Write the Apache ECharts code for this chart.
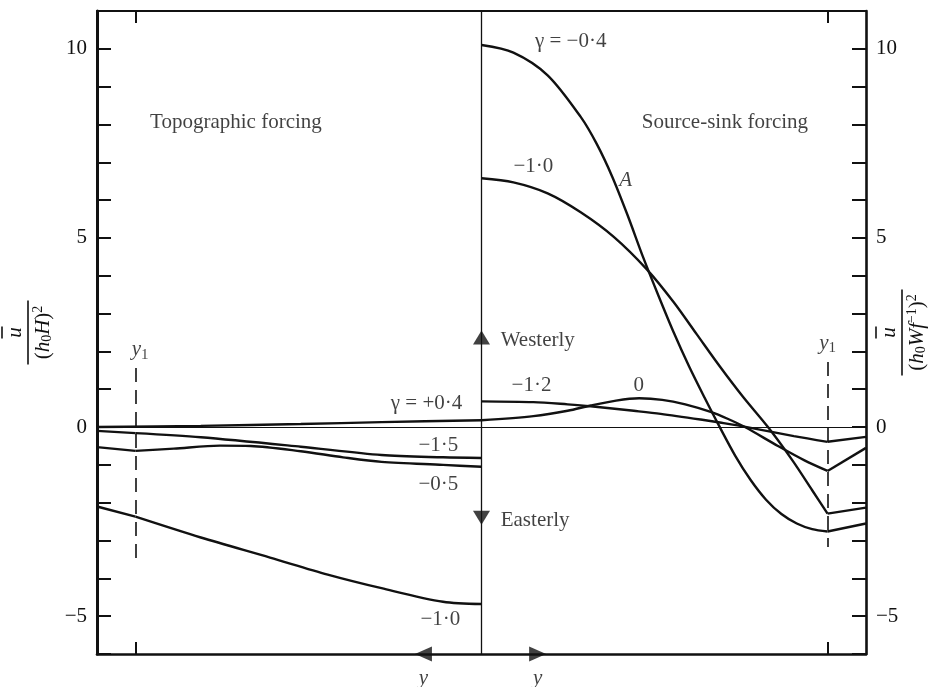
<!DOCTYPE html>
<html><head><meta charset="utf-8">
<script src="https://cdn.jsdelivr.net/npm/echarts@6/dist/echarts.min.js"></script>
<style>html,body{margin:0;padding:0;background:#fff}#c{width:932px;height:687px}</style>
</head><body><div id="c"></div>
<script>
// Position along y measured from the centre line (fraction of half-width), mean wind value
const y1 = 0.9;
const yTickLabels = [-5, 0, 5, 10];

// Topographic forcing (left panel)
const topoGammaP04 = [[0,0.18],[0.26,0.13],[0.47,0.08],[0.73,0.03],[1,0.0]];
const topoGammaM15 = [[0,-0.82],[0.1,-0.8],[0.26,-0.74],[0.47,-0.52],[0.73,-0.27],[0.9,-0.16],[1,-0.1]];
const topoGammaM05 = [[0,-1.05],[0.1,-1.0],[0.26,-0.92],[0.36,-0.8],[0.47,-0.64],[0.6,-0.5],[0.68,-0.49],[0.8,-0.57],[0.9,-0.63],[1,-0.53]];
const topoGammaM10 = [[0,-4.68],[0.1,-4.62],[0.26,-4.26],[0.4,-3.9],[0.55,-3.45],[0.73,-2.92],[0.9,-2.37],[1,-2.1]];

// Source-sink forcing (right panel)
const srcGammaM04 = [[0,10.1],[0.083,9.9],[0.172,9.3],[0.258,8.2],[0.3,7.48],[0.34,6.62],[0.38,5.6],[0.42,4.5],[0.46,3.48],[0.5,2.5],[0.54,1.6],[0.58,0.78],[0.617,0.05],[0.66,-0.76],[0.7,-1.4],[0.74,-1.92],[0.78,-2.3],[0.82,-2.55],[0.86,-2.7],[0.9,-2.76],[1,-2.55]];
const srcGammaM10 = [[0,6.58],[0.083,6.47],[0.172,6.18],[0.258,5.68],[0.344,5.03],[0.43,4.17],[0.5,3.3],[0.56,2.45],[0.62,1.6],[0.68,0.8],[0.745,0.0],[0.81,-0.9],[0.86,-1.67],[0.9,-2.29],[1,-2.13]];
const srcGamma0 = [[0,0.18],[0.135,0.29],[0.224,0.43],[0.284,0.57],[0.35,0.7],[0.41,0.76],[0.47,0.72],[0.53,0.6],[0.596,0.4],[0.64,0.22],[0.685,0.0],[0.771,-0.5],[0.84,-0.88],[0.9,-1.16],[1,-0.55]];
const srcGammaM12 = [[0,0.68],[0.135,0.66],[0.224,0.6],[0.284,0.55],[0.396,0.43],[0.466,0.35],[0.57,0.2],[0.62,0.12],[0.69,0.0],[0.8125,-0.24],[0.9,-0.39],[1,-0.26]];

const FONT = 'Liberation Serif';
const INK = '#111';

function place(pts, sign) { return pts.map(p => [sign * p[0], p[1]]); }
function curve(pts, sign, kinked) {
  const out = [];
  const main = kinked ? pts.filter(p => p[0] <= y1) : pts;
  out.push({type:'line', data: place(main, sign), smooth: 0.3, showSymbol:false, silent:true,
    lineStyle:{color:INK, width:2.4}, z:5});
  if (kinked) {
    out.push({type:'line', data: place(pts.filter(p => p[0] >= y1), sign), smooth:false, showSymbol:false, silent:true,
      lineStyle:{color:INK, width:2.4}, z:5});
  }
  return out;
}
const fmt = v => v < 0 ? '\u2212' + (-v) : String(v);

const series = [].concat(
  curve(topoGammaP04, -1, false),
  curve(topoGammaM15, -1, true),
  curve(topoGammaM05, -1, true),
  curve(topoGammaM10, -1, true),
  curve(srcGammaM04, 1, true),
  curve(srcGammaM10, 1, true),
  curve(srcGamma0, 1, true),
  curve(srcGammaM12, 1, true)
);

// reference lines: centre line, zero line, y1 dashed lines
series.push({
  type:'line', data:[], silent:true,
  markLine:{silent:true, symbol:'none', label:{show:false},
    lineStyle:{color:INK, width:1.3, type:'solid'},
    data:[
      {xAxis:0},
      {yAxis:0, lineStyle:{width:1}},
      [{coord:[-y1,1.56], lineStyle:{type:[14,8], width:1.6}}, {coord:[-y1,-3.6]}],
      [{coord:[y1,1.72], lineStyle:{type:[14,8], width:1.6}}, {coord:[y1,-3.17]}]
    ]}
});

// arrows
series.push({
  type:'scatter', silent:true, clip:false, symbol:'triangle', itemStyle:{color:INK}, z:6,
  data:[
    {value:[0,2.37], symbolSize:[17,14], symbolRotate:0},
    {value:[0,-2.4], symbolSize:[17,14], symbolRotate:180},
    {value:[-0.151,-6], symbolSize:[15,17], symbolRotate:90},
    {value:[0.146,-6], symbolSize:[15,17], symbolRotate:-90}
  ]
});

// text annotations
const txt = (text, x, v, align, extra) => ({
  value:[x, v],
  label:Object.assign({show:true, formatter:text, position:'inside', align:align || 'center', verticalAlign:'middle',
    fontFamily:FONT, fontSize:21, color:INK,
    rich:{i:{fontFamily:FONT, fontSize:21, fontStyle:'italic', color:INK}, s:{fontFamily:FONT, fontSize:15, color:INK, padding:[10,0,0,0]}}}, extra || {})
});
series.push({
  type:'scatter', silent:true, clip:false, symbolSize:0, z:7,
  data:[
    txt('\u03b3 = \u22120\u00b74', 0.232, 10.19),
    txt('\u22121\u00b70', 0.135, 6.88),
    txt('{i|A}', 0.375, 6.53),
    txt('Source-sink forcing', 0.417, 8.04, 'left'),
    txt('Westerly', 0.05, 2.3, 'left'),
    txt('Easterly', 0.05, -2.46, 'left'),
    txt('\u22121\u00b72', 0.13, 1.11),
    txt('0', 0.409, 1.11),
    txt('{i|y}{s|1}', 0.9, 2.22),
    txt('Topographic forcing', -0.862, 8.04, 'left'),
    txt('\u03b3 = +0\u00b74', -0.143, 0.63),
    txt('\u22121\u00b75', -0.112, -0.48),
    txt('\u22120\u00b75', -0.112, -1.53),
    txt('\u22121\u00b70', -0.107, -5.1),
    txt('{i|y}{s|1}', -0.888, 2.04),
    txt('{i|y}', -0.151, -6.64),
    txt('{i|y}', 0.146, -6.64)
  ]
});

const nameRich = {
  ob:{width:12, height:1.6, backgroundColor:INK, lineHeight:6},
  ni:{fontFamily:FONT, fontSize:21, fontStyle:'italic', color:INK, lineHeight:20},
  bar:{width:64, height:1.6, backgroundColor:INK, lineHeight:6},
  d:{fontFamily:FONT, fontSize:21, color:INK, lineHeight:24},
  di:{fontFamily:FONT, fontSize:21, fontStyle:'italic', color:INK, lineHeight:24},
  ds:{fontFamily:FONT, fontSize:14, color:INK, lineHeight:24, padding:[8,0,0,0]},
  dp:{fontFamily:FONT, fontSize:14, color:INK, lineHeight:24, padding:[0,0,10,0]}
};
const rightRich = Object.assign({}, nameRich, {bar:{width:86, height:1.6, backgroundColor:INK, lineHeight:6}});

function yAx(pos, name, rich, gap, lw) {
  return {
    type:'value', min:-6, max:11, interval:1, position:pos,
    axisLine:{show:true, onZero:false, lineStyle:{color:INK, width:lw}},
    axisTick:{show:true, inside:true, length:14, lineStyle:{color:INK, width:2}},
    axisLabel:{show:true, margin:10, fontFamily:FONT, fontSize:21, color:INK,
      formatter: v => (v % 5 === 0 ? fmt(v) : '')},
    splitLine:{show:false},
    name:name, nameLocation:'middle', nameGap:gap, nameRotate:90, nameMoveOverlap:false,
    nameTextStyle:{rich:rich}
  };
}
function xAx(pos, lw) {
  return {
    type:'value', min:-1, max:1, position:pos,
    axisLine:{show:true, onZero:false, lineStyle:{color:INK, width:lw}},
    axisTick:{show:true, inside:true, length:12, customValues:[-y1, y1], lineStyle:{color:INK, width:2}},
    axisLabel:{show:false}, splitLine:{show:false}
  };
}

const option = {
  backgroundColor:'#fff',
  animation:false,
  grid:{left:97, right:66, top:11, bottom:33, containLabel:false, outerBoundsMode:'none'},
  xAxis:[xAx('bottom', 2.6), xAx('top', 2.2)],
  yAxis:[
    yAx('left', '{ob|}\n{ni|u}\n{bar|}\n{d|(}{di|h}{ds|0}{di|H}{d|)}{dp|2}', nameRich, 42, 3),
    yAx('right', '{ob|}\n{ni|u}\n{bar|}\n{d|(}{di|h}{ds|0}{di|Wf}{dp|\u22121}{d|)}{dp|2}', rightRich, 7, 2.6)
  ],
  series: series
};
const chart = echarts.init(document.getElementById('c'), null, {renderer:'canvas'});
chart.setOption(option);
</script></body></html>
